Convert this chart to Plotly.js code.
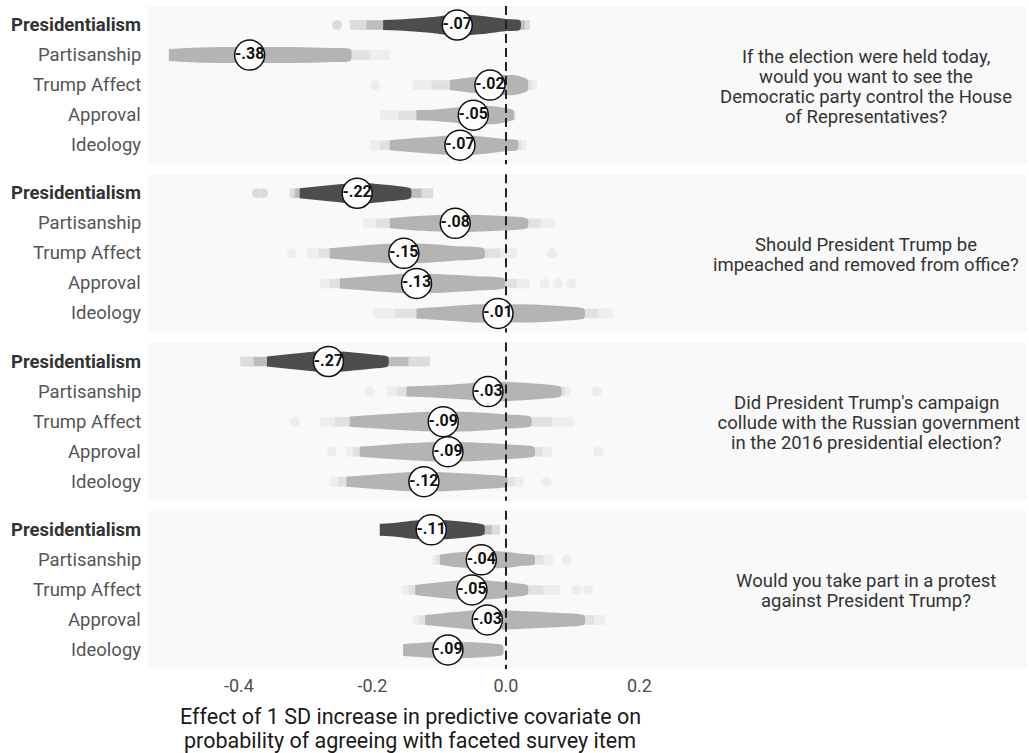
<!DOCTYPE html>
<html>
<head>
<meta charset="utf-8">
<script src="https://cdn.plot.ly/plotly-3.0.1.min.js"></script>
<style>html,body{margin:0;padding:0;background:#fff;}#chart{width:1029px;height:753px;}</style>
</head>
<body>
<div id="chart"></div>
<script>
// ---------- data ----------
const questions = [
  ["If the election were held today,", "would you want to see the", "Democratic party control the House", "of Representatives?"],
  ["Should President Trump be", "impeached and removed from office?"],
  ["Did President Trump's campaign", " collude with the Russian government", "in the 2016 presidential election?"],
  ["Would you take part in a protest", "against President Trump?"]
];
const covariates = ["Presidentialism", "Partisanship", "Trump Affect", "Approval", "Ideology"];
const xTickVals = [-0.4, -0.2, 0.0, 0.2];
const xTickText = ["-0.4", "-0.2", "0.0", "0.2"];
const xTitleLines = ["Effect of 1 SD increase in predictive covariate on", "probability of agreeing with faceted survey item"];

// posterior mean effect (circle labels), panel x covariate
const means = [
  [-0.073, -0.384, -0.024, -0.049, -0.069],
  [-0.223, -0.076, -0.153, -0.134, -0.012],
  [-0.266, -0.027, -0.094, -0.087, -0.123],
  [-0.112, -0.037, -0.051, -0.028, -0.087]
];
// dense part of each posterior cloud: x knots
const coreX = [
  [[-0.184,-0.15,-0.11,-0.073,-0.035,0.0,0.02],
   [-0.505,-0.48,-0.43,-0.386,-0.32,-0.26,-0.234],
   [-0.084,-0.06,-0.035,-0.01,0.01,0.025,0.031],
   [-0.134,-0.1,-0.07,-0.045,-0.02,0.0,0.01],
   [-0.174,-0.14,-0.1,-0.07,-0.04,0.0,0.016]],
  [[-0.309,-0.28,-0.25,-0.223,-0.19,-0.16,-0.144],
   [-0.174,-0.14,-0.11,-0.076,-0.03,0.0,0.031],
   [-0.264,-0.23,-0.19,-0.153,-0.11,-0.07,-0.034],
   [-0.249,-0.21,-0.17,-0.135,-0.09,-0.04,-0.004],
   [-0.134,-0.09,-0.05,-0.012,0.04,0.09,0.116]],
  [[-0.358,-0.33,-0.3,-0.266,-0.23,-0.2,-0.178],
   [-0.149,-0.11,-0.06,-0.027,0.02,0.06,0.081],
   [-0.234,-0.19,-0.14,-0.094,-0.04,0.0,0.036],
   [-0.219,-0.18,-0.13,-0.087,-0.04,0.01,0.041],
   [-0.239,-0.2,-0.16,-0.123,-0.08,-0.03,0.0]],
  [[-0.189,-0.165,-0.14,-0.112,-0.08,-0.05,-0.034],
   [-0.099,-0.08,-0.06,-0.037,0.0,0.025,0.041],
   [-0.136,-0.11,-0.08,-0.051,-0.02,0.01,0.031],
   [-0.121,-0.09,-0.06,-0.028,0.02,0.08,0.116],
   [-0.154,-0.13,-0.11,-0.085,-0.06,-0.03,-0.006]]
];
// half-height of the dense cloud at each knot (pixels)
const coreHalfPx = [
  [[4,5,7,10,8,5,4],[5,6,7,7,7,6,5],[4,6,8,9,9,7,5],[4,5,7,8,8,6,4],[4,6,8,9,8,5,4]],
  [[4,6,8,10,8,6,4],[4,6,7,8,7,6,4],[4,6,8,9,8,6,4],[4,6,8,9,8,6,4],[4,6,8,8,8,6,4]],
  [[4,6,8,10,8,6,4],[4,5,7,9,8,6,4],[4,6,8,9,8,6,4],[4,6,8,9,8,6,4],[4,6,8,9,8,6,4]],
  [[5,6,8,9,8,6,4],[4,6,7,8,7,5,4],[4,6,8,9,8,6,4],[4,6,8,9,8,6,4],[5,6,7,8,7,6,4]]
];
// faint tail extent [min, max]
const tails = [
  [[-0.234,0.036],[-0.505,-0.174],[-0.139,0.046],[-0.189,0.015],[-0.204,0.031]],
  [[-0.324,-0.109],[-0.214,0.073],[-0.298,0.016],[-0.279,0.036],[-0.199,0.16]],
  [[-0.398,-0.114],[-0.178,0.096],[-0.279,0.101],[-0.239,0.069],[-0.264,0.026]],
  [[-0.189,-0.009],[-0.111,0.071],[-0.156,0.081],[-0.139,0.148],[-0.154,-0.006]]
];
// isolated extreme draws
const looseDraws = [
  [[-0.253],[],[-0.196],[],[]],
  [[-0.373,-0.364],[],[-0.321,0.069],[0.058,0.078,0.098],[]],
  [[],[-0.204,0.136],[-0.316],[-0.261,0.138],[0.061]],
  [[],[0.091],[0.106,0.123],[],[]]
];

// ---------- geometry ----------
const PANEL_PITCH = 5.6, PX_PER_UNIT = 30;
const rowY = (p, i) => PANEL_PITCH * p + i + 1;
const panelTop = p => PANEL_PITCH * p + 0.367;
const panelBot = p => PANEL_PITCH * p + 5.633;
const DARK = "#4d4d4d", LIGHT = "#b4b4b4";
const fmt = v => v.toFixed(2).replace("0.", ".");
const PLOT_L = 148, PLOT_W = 524, PLOT_B = 669, PLOT_H = 663;
const pxToPaperX = px => (px - PLOT_L) / PLOT_W;
const pxToPaperY = py => (PLOT_B - py) / PLOT_H;

const traces = [];
const shapes = [];
const annotations = [];

for (let p = 0; p < 4; p++) {
  shapes.push({type: "rect", xref: "paper", yref: "y", x0: 0, x1: pxToPaperX(1027),
    y0: panelTop(p), y1: panelBot(p), fillcolor: "#f9f9f9", line: {width: 0}, layer: "below"});
  const lines = questions[p], n = lines.length;
  const centre = (panelTop(p) + panelBot(p)) / 2 + 1.5 / PX_PER_UNIT;
  lines.forEach((t, k) => {
    annotations.push({xref: "paper", yref: "y", x: pxToPaperX(866),
      y: centre + (k - (n - 1) / 2) * 20 / PX_PER_UNIT,
      text: t, showarrow: false, xanchor: "center", yanchor: "middle", align: "center",
      font: {family: "Roboto", size: 18.5, color: "#333333"}});
  });
  for (let i = 0; i < 5; i++) {
    const y = rowY(p, i);
    const col = i === 0 ? DARK : LIGHT;
    const xs = coreX[p][i], hs = coreHalfPx[p][i];
    // faint tail band (outer) and a denser band nearer the core
    traces.push({type: "scatter", mode: "lines", x: tails[p][i], y: [y, y],
      line: {color: col, width: 10}, opacity: 0.16, hoverinfo: "skip", showlegend: false});
    traces.push({type: "scatter", mode: "lines",
      x: [(tails[p][i][0] + xs[0]) / 2, (tails[p][i][1] + xs[xs.length - 1]) / 2], y: [y, y],
      line: {color: col, width: 9}, opacity: 0.22, hoverinfo: "skip", showlegend: false});
    // loose draws
    if (looseDraws[p][i].length) {
      traces.push({type: "scatter", mode: "markers", x: looseDraws[p][i], y: looseDraws[p][i].map(() => y),
        marker: {color: col, size: 10, line: {width: 0}}, opacity: 0.16, hoverinfo: "skip", showlegend: false});
    }
    // dense cloud
    const px = xs.concat(xs.slice().reverse());
    const py = hs.map(h => y - h / PX_PER_UNIT).concat(hs.slice().reverse().map(h => y + h / PX_PER_UNIT));
    traces.push({type: "scatter", mode: "lines", x: px, y: py, fill: "toself", fillcolor: col,
      line: {color: col, width: 2, shape: "spline", smoothing: 0.6}, hoverinfo: "skip", showlegend: false});
  }
  for (let i = 0; i < 5; i++) {
    annotations.push({xref: "paper", yref: "y", x: pxToPaperX(143), y: rowY(p, i),
      text: i === 0 ? "<b>" + covariates[i] + "</b>" : covariates[i], showarrow: false,
      xanchor: "right", yanchor: "middle",
      font: {family: "Roboto", size: 18.5, color: i === 0 ? "#333333" : "#555555"}});
  }
}

// dashed zero line per panel
const zx = [], zy = [];
for (let p = 0; p < 4; p++) { zx.push(0, 0, null); zy.push(panelTop(p), panelBot(p), null); }
traces.push({type: "scatter", mode: "lines", x: zx, y: zy,
  line: {color: "#222222", width: 2, dash: "9px,5px"}, hoverinfo: "skip", showlegend: false});

// mean circles
const mx = [], my = [], mt = [];
for (let p = 0; p < 4; p++) for (let i = 0; i < 5; i++) {
  mx.push(means[p][i]); my.push(rowY(p, i)); mt.push(fmt(means[p][i]));
}
traces.push({type: "scatter", mode: "markers+text", x: mx, y: my, text: mt,
  textposition: "middle center",
  textfont: {family: "Roboto", size: 16, color: "#111111", weight: "bold"},
  marker: {size: 30, color: "#ffffff", line: {color: "#111111", width: 1.5}},
  hoverinfo: "skip", showlegend: false});

// x-axis title (two lines)
xTitleLines.forEach((t, k) => {
  annotations.push({xref: "paper", yref: "paper", x: 0.5, y: pxToPaperY(716 + 24 * k),
    yanchor: "middle", xanchor: "center", text: t, showarrow: false,
    font: {family: "Roboto", size: 21.5, color: "#1a1a1a"}});
});

const layout = {
  width: 1029, height: 753,
  margin: {l: PLOT_L, r: 1029 - PLOT_L - PLOT_W, t: 6, b: 753 - PLOT_B, pad: 0},
  paper_bgcolor: "#ffffff", plot_bgcolor: "rgba(0,0,0,0)",
  showlegend: false,
  xaxis: {range: [-0.5363, 0.2487], tickvals: xTickVals, ticktext: xTickText,
    showgrid: false, zeroline: false, showline: false, ticks: "", ticklabelstandoff: 4,
    tickfont: {family: "Roboto", size: 18, color: "#4d4d4d"}, fixedrange: true},
  yaxis: {range: [panelBot(3), panelTop(0)], showgrid: false, zeroline: false, showline: false,
    showticklabels: false, ticks: "", fixedrange: true},
  shapes: shapes,
  annotations: annotations,
  font: {family: "Roboto"}
};

Plotly.newPlot("chart", traces, layout, {displayModeBar: false, staticPlot: true});
</script>
</body>
</html>
